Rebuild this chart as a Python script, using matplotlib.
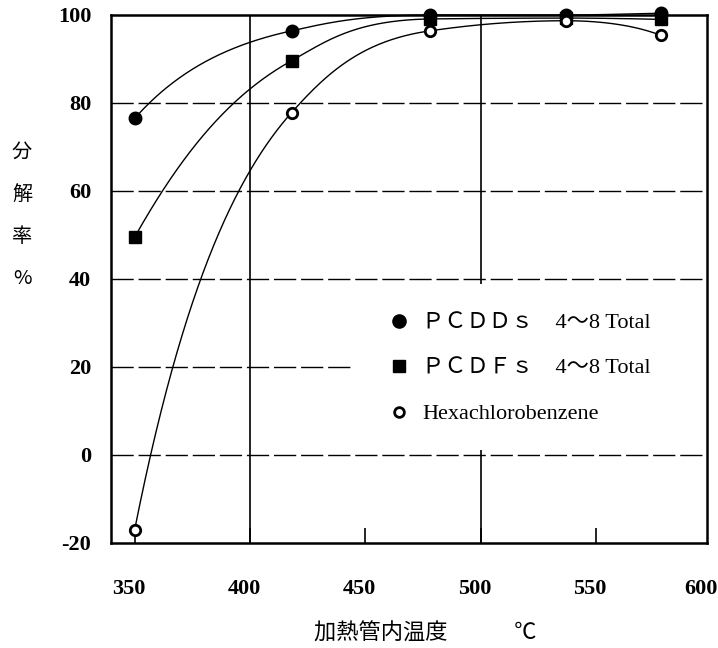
import numpy as np
import matplotlib
matplotlib.use("Agg")
import matplotlib.pyplot as plt
from matplotlib.lines import Line2D
from matplotlib.patches import Rectangle
from matplotlib.font_manager import FontProperties
from matplotlib.transforms import ScaledTranslation, blended_transform_factory

# ---------------- data ----------------
temperature = [350, 418, 478, 537, 578]
pcdds = [76.5, 96.4, 100.0, 100.0, 100.4]
pcdfs = [49.5, 89.6, 99.1, 99.3, 99.0]
hcb = [-17.0, 77.8, 96.4, 98.7, 95.4]

x_ticks = [350, 400, 450, 500, 550, 600]
y_ticks = [-20, 0, 20, 40, 60, 80, 100]
dashed_y = [0, 20, 40, 60, 80]
solid_x = [400, 500]
legend_labels = ["ＰＣＤＤｓ　4～8 Total", "ＰＣＤＦｓ　4～8 Total", "Hexachlorobenzene"]
y_label = "分解率%"
x_label = "加熱管内温度　　　℃"

SERIF_B = FontProperties(family=["Liberation Serif"], weight="bold", size=16)
MIXED = FontProperties(family=["Liberation Serif", "Noto Sans CJK JP"], size=16)
CJK = ["Noto Sans CJK JP", "DejaVu Sans"]


def pchip(x, y, xs):
    x = np.asarray(x, float)
    y = np.asarray(y, float)
    h = np.diff(x)
    d = np.diff(y) / h
    n = len(x)
    m = np.zeros(n)
    for k in range(1, n - 1):
        if d[k - 1] * d[k] <= 0:
            m[k] = 0.0
        else:
            w1 = 2 * h[k] + h[k - 1]
            w2 = h[k] + 2 * h[k - 1]
            m[k] = (w1 + w2) / (w1 / d[k - 1] + w2 / d[k])

    def end(h0, h1, d0, d1):
        mm = ((2 * h0 + h1) * d0 - h0 * d1) / (h0 + h1)
        if np.sign(mm) != np.sign(d0):
            mm = 0.0
        elif np.sign(d0) != np.sign(d1) and abs(mm) > abs(3 * d0):
            mm = 3 * d0
        return mm

    m[0] = end(h[0], h[1], d[0], d[1])
    m[-1] = end(h[-1], h[-2], d[-1], d[-2])
    xs = np.asarray(xs, float)
    idx = np.clip(np.searchsorted(x, xs) - 1, 0, n - 2)
    t = (xs - x[idx]) / h[idx]
    h00 = 2 * t**3 - 3 * t**2 + 1
    h10 = t**3 - 2 * t**2 + t
    h01 = -2 * t**3 + 3 * t**2
    h11 = t**3 - t**2
    return (h00 * y[idx] + h10 * h[idx] * m[idx]
            + h01 * y[idx + 1] + h11 * h[idx] * m[idx + 1])


def smooth_curve(x, y, xs, ceiling=101.0):
    # monotone interpolation of the remaining "gap to full decomposition"
    # on a log scale, which reproduces the saturating hand-drawn curves
    g = np.log(ceiling - np.asarray(y, float))
    return ceiling - np.exp(pchip(x, g, xs))


W, H = 718, 648
fig = plt.figure(figsize=(W / 100, H / 100), dpi=100)
ax = fig.add_axes([110.7 / W, 1 - 542.7 / H, 596.3 / W, 527.7 / H])
ax.set_xlim(339.6, 598.1)
ax.set_ylim(-20, 100)

# grid
for yv in dashed_y:
    ax.axhline(yv, color="black", lw=1.0, dashes=(16, 3.5), zorder=1)
for xv in solid_x:
    ax.axvline(xv, color="black", lw=1.2, zorder=1)

# legend backdrop (blanks the grid behind the legend)
ax.add_patch(Rectangle((0.41, 0.175), 0.59, 0.315, transform=ax.transAxes,
                       facecolor="white", edgecolor="none", zorder=1.5))

# curves
xs = np.linspace(temperature[0], temperature[-1], 400)
for series in (pcdds, pcdfs, hcb):
    ax.plot(xs, smooth_curve(temperature, series, xs), color="black", lw=1.0,
            zorder=3, clip_on=False)

# markers
ax.plot(temperature, pcdfs, ls="none", marker="s", ms=8.5, color="black",
        zorder=4, clip_on=False)
ax.plot(temperature, pcdds, ls="none", marker="o", ms=9, color="black",
        zorder=5, clip_on=False)
ax.plot(temperature, hcb, ls="none", marker="o", ms=7.5, mfc="white",
        mec="black", mew=2.0, zorder=6, clip_on=False)

# legend
handles = [
    Line2D([], [], ls="none", marker="o", ms=9.5, color="black"),
    Line2D([], [], ls="none", marker="s", ms=8.5, color="black"),
    Line2D([], [], ls="none", marker="o", ms=7, mfc="white", mec="black", mew=2.0),
]
leg = ax.legend(handles, legend_labels, loc="upper left",
                bbox_to_anchor=((387.6 - 110.7) / 596.3, (542.7 - 313) / 527.7),
                frameon=False, handlelength=1.0, handletextpad=0.55,
                borderpad=0, borderaxespad=0, labelspacing=1.12, prop=MIXED)
leg.set_zorder(7)

# axes styling
for sp in ax.spines.values():
    sp.set_linewidth(1.8)
    sp.set_zorder(8)
ax.set_xticks(x_ticks[:-1])
ax.set_xticklabels([])
ax.tick_params(axis="x", direction="in", length=11, width=1.2)
ax.set_yticks(y_ticks)
ax.set_yticklabels([str(v) for v in y_ticks], fontproperties=SERIF_B)
ax.tick_params(axis="y", length=0, pad=14.0)

# x tick labels (drawn slightly left of their tick, as in the original)
btrans = blended_transform_factory(ax.transData, ax.transAxes)
for i, v in enumerate(x_ticks):
    shift = -6 if i < len(x_ticks) - 1 else -10
    off = ScaledTranslation(shift / 100, 0, fig.dpi_scale_trans)
    ax.text(v, (542.7 - 589) / 527.7, str(v), transform=btrans + off,
            ha="center", va="center", fontproperties=SERIF_B, clip_on=False)

# axis labels
ax.set_xlabel(x_label, family=CJK, fontsize=16)
ax.xaxis.set_label_coords((425 - 110.7) / 596.3, (542.7 - 633) / 527.7)
ax.xaxis.label.set_va("center")
for i, ch in enumerate(y_label):
    fig.text(22 / W, 1 - (152 + i * 42.3) / H, ch, ha="center", va="center",
             family=CJK, fontsize=14.5)

fig.savefig("out.png", dpi=100)
